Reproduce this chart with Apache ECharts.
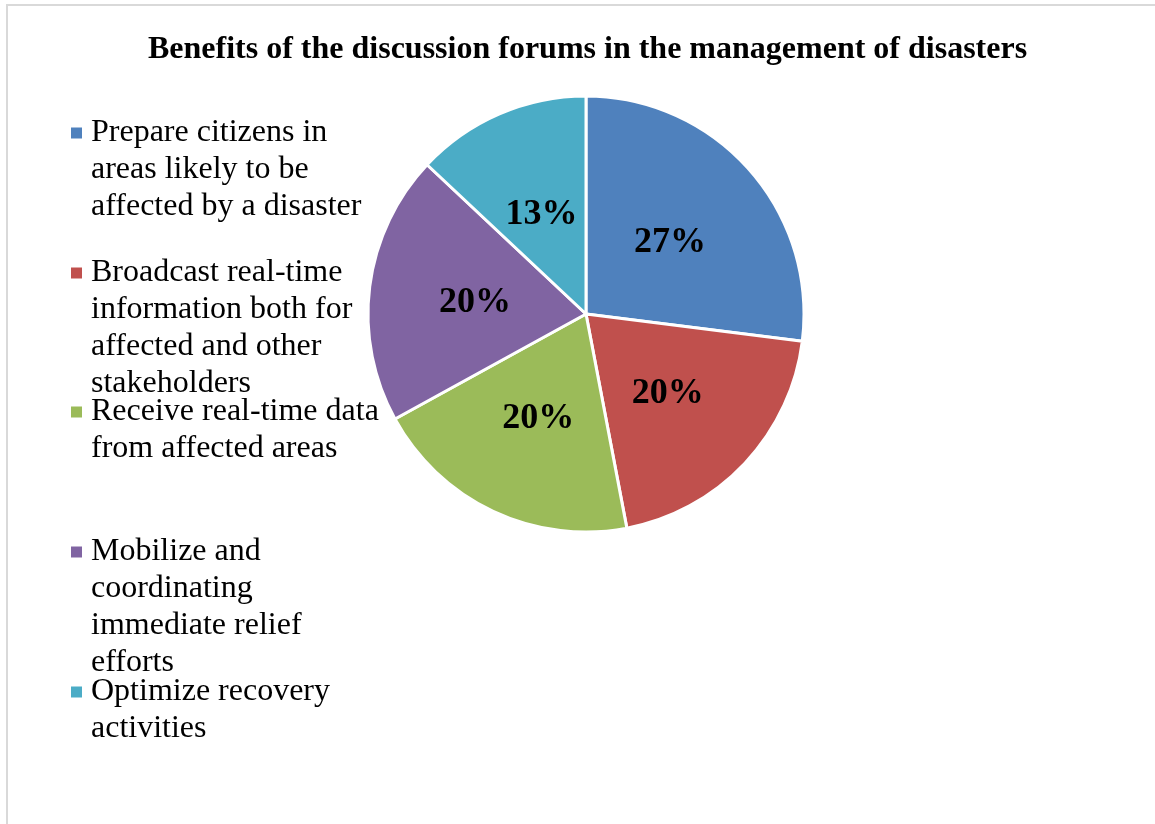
<!DOCTYPE html>
<html>
<head>
<meta charset="utf-8">
<title>Benefits of the discussion forums in the management of disasters</title>
<script src="https://cdn.jsdelivr.net/npm/echarts@6/dist/echarts.min.js"></script>
<style>
  html, body { margin: 0; padding: 0; background: #ffffff; }
  #chart { width: 1155px; height: 824px; }
</style>
</head>
<body>
<div id="chart"></div>
<script>
// Benefit categories and their shares (percent)
const categories = [
  'Prepare citizens in areas likely to be affected by a disaster',
  'Broadcast real-time information both for affected and other stakeholders',
  'Receive real-time data from affected areas',
  'Mobilize and coordinating immediate relief efforts',
  'Optimize recovery activities'
];
const shares = [27, 20, 20, 20, 13];

// Legend wording broken into lines
const legendLines = [
  ['Prepare citizens in', 'areas likely to be', 'affected by a disaster'],
  ['Broadcast real-time', 'information both for', 'affected and other', 'stakeholders'],
  ['Receive real-time data', 'from affected areas'],
  ['Mobilize and', 'coordinating', 'immediate relief', 'efforts'],
  ['Optimize recovery', 'activities']
];

const colors = ['#4F81BD', '#C0504D', '#9BBB59', '#8064A2', '#4BACC6'];
const serif = '"Liberation Serif", "Times New Roman", serif';

// Legend entries sit in fixed slots; each marker lines up with its first text line.
// The text block is centred on the marker, so blank lines are added above it
// to bring the first line level with the marker.
const slotCenters = [133, 273, 412, 552, 692];
const lineH = 37;

const legends = categories.map(function (name, i) {
  const n = legendLines[i].length;
  const text = new Array(n).join('\n') + legendLines[i].join('\n');
  return {
    show: true,
    orient: 'vertical',
    left: 71,
    top: slotCenters[i] - (2 * n - 1) * lineH / 2,
    padding: 0,
    selectedMode: false,
    icon: 'rect',
    itemWidth: 11,
    itemHeight: 11,
    itemStyle: { borderWidth: 0 },
    data: [name],
    formatter: function () { return text; },
    textStyle: {
      fontFamily: serif,
      fontSize: 32,
      lineHeight: lineH,
      color: '#000000',
      padding: [0, 0, 0, 4]
    }
  };
});

const chart = echarts.init(document.getElementById('chart'), null, { renderer: 'canvas' });

chart.setOption({
  backgroundColor: '#ffffff',
  animation: false,
  color: colors,
  title: {
    text: 'Benefits of the discussion forums in the management of disasters',
    left: 143,
    top: 29,
    textStyle: {
      fontFamily: serif,
      fontSize: 32,
      fontWeight: 'bold',
      color: '#000000'
    }
  },
  legend: legends,
  graphic: [{
    type: 'polyline',
    silent: true,
    shape: { points: [[7, 824], [7, 5], [1155, 5]] },
    style: { stroke: '#d9d9d9', lineWidth: 2, fill: null }
  }],
  series: [{
    type: 'pie',
    center: [586, 314],
    radius: [0, 218],
    startAngle: 90,
    clockwise: true,
    avoidLabelOverlap: false,
    itemStyle: { borderColor: '#ffffff', borderWidth: 3 },
    label: {
      show: true,
      position: 'inside',
      formatter: '{c}%',
      offset: [0, 3],
      fontFamily: serif,
      fontSize: 36,
      fontWeight: 'bold',
      color: '#000000'
    },
    labelLine: { show: false },
    emphasis: { disabled: true },
    data: categories.map(function (name, i) {
      return { name: name, value: shares[i] };
    })
  }]
});
</script>
</body>
</html>
